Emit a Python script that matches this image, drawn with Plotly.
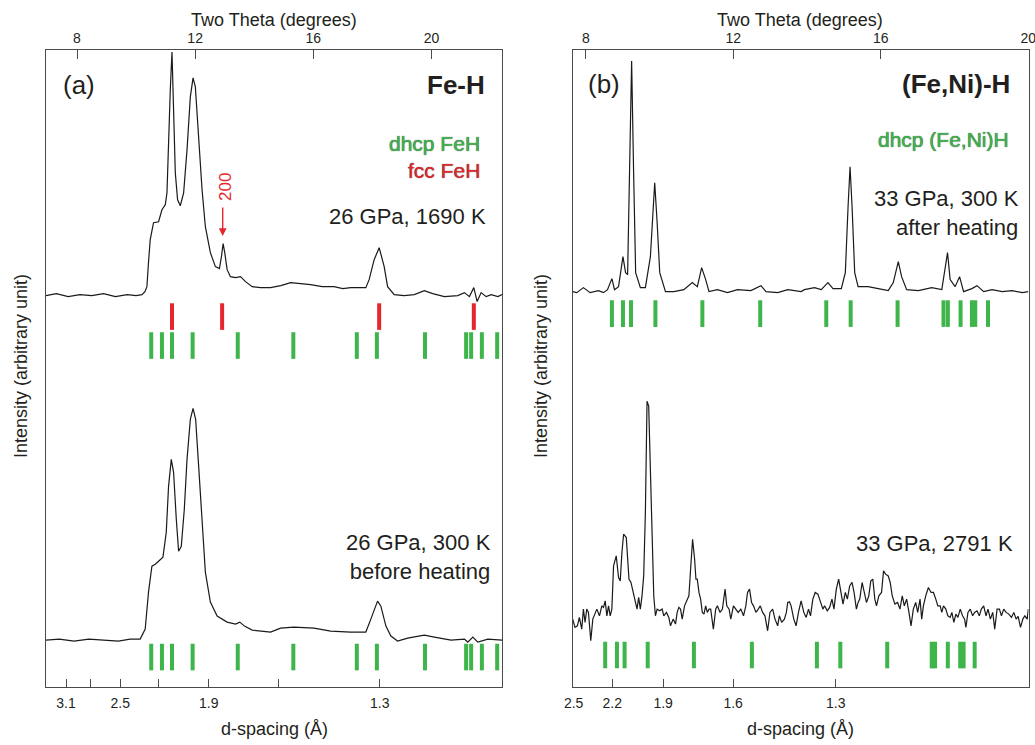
import numpy as np
import plotly.graph_objects as go

# ---------------- data (two theta in degrees, intensity in arbitrary units) ----------------
FE_HOT = [(6.95,392),(7.3,394),(7.7,391),(8.1,393),(8.5,392),(8.9,394),(9.3,391),(9.7,393),(10.0,392),
          (10.197,393),(10.30,396),(10.367,401),(10.42,425),(10.479,448),(10.591,465),(10.761,466),
          (10.876,478),(10.988,483),(11.046,495),(11.100,548),(11.158,598),(11.216,636),(11.270,581),
          (11.328,515),(11.406,488),(11.497,482),(11.610,495),(11.725,538),(11.837,591),(11.929,610),
          (12.007,601),(12.119,548),(12.234,498),(12.346,461),(12.516,435),(12.686,421),(12.822,419),
          (12.890,431),(12.947,444),(13.002,435),(13.083,418),(13.195,411),(13.365,410),(13.535,411),
          (13.705,406),(13.932,401),(14.214,400),(14.553,400),(14.9,402),(15.233,405),(15.6,404),(15.912,403),
          (16.3,401),(16.703,401),(17.0,399),(17.270,400),(17.779,400),(17.891,408),(18.061,428),(18.231,440),
          (18.401,421),(18.516,401),(18.740,393),(19.080,392),(19.419,393),(19.759,397),(20.044,394),
          (20.438,391),(20.893,392),(21.117,395),(21.287,391),(21.436,400),(21.548,386),(21.684,395),
          (21.854,391),(22.024,393),(22.251,391),(22.39,393)]

FE_COLD = [(6.95,47),(7.4,48),(7.9,46),(8.4,48),(8.9,47),(9.4,46),(9.8,48),(10.139,48),(10.309,58),
           (10.421,95),(10.536,121),(10.649,123),(10.761,126),(10.910,130),(11.022,155),(11.100,201),
           (11.192,228),(11.270,215),(11.362,168),(11.440,136),(11.531,141),(11.633,178),(11.725,228),
           (11.837,268),(11.929,279),(12.017,268),(12.119,221),(12.234,161),(12.346,115),(12.516,85),
           (12.744,71),(13.083,65),(13.365,63),(13.511,65),(13.671,61),(13.932,57),(14.553,55),(14.893,59),
           (15.345,60),(16.024,59),(16.591,56),(17.270,55),(17.779,55),(17.949,68),(18.176,86),(18.289,81),
           (18.459,61),(18.628,51),(18.855,46),(19.195,49),(19.759,52),(20.099,50),(20.665,47),(21.117,48),
           (21.232,45),(21.402,50),(21.572,45),(21.911,48),(22.39,47)]

FENI_COLD = [(7.646,396),(7.755,395),(7.935,400),(8.117,395),(8.343,397),(8.480,395),(8.589,398),
             (8.708,409),(8.779,398),(8.888,401),(9.008,431),(9.079,415),(9.134,413),(9.188,515),
             (9.243,627),(9.297,515),(9.352,415),(9.480,400),(9.616,400),(9.752,431),(9.826,481),
             (9.869,505),(9.935,465),(10.005,415),(10.161,396),(10.387,396),(10.659,398),(10.888,405),
             (11.025,401),(11.142,420),(11.251,408),(11.341,396),(11.570,398),(11.842,395),(12.114,398),
             (12.477,397),(12.749,402),(12.886,396),(13.204,395),(13.477,398),(13.839,396),(13.929,398),
             (14.201,400),(14.384,398),(14.567,405),(14.703,399),(14.929,399),(15.038,415),(15.112,481),
             (15.166,521),(15.221,481),(15.292,415),(15.384,401),(15.657,401),(15.929,399),(16.202,397),
             (16.338,405),(16.428,421),(16.474,426),(16.564,411),(16.700,398),(17.019,397),(17.381,400),
             (17.654,398),(17.744,418),(17.809,435),(17.880,408),(18.016,401),(18.136,411),(18.245,396),
             (18.471,399),(18.608,402),(18.790,396),(19.017,398),(19.289,396),(19.561,397),(19.834,395),
             (20.0,396)]

FENI_HOT = [(7.645,68),(7.708,59.7),(7.772,61.3),(7.826,69.7),(7.890,58),(7.935,78),(7.981,64.7),
            (8.026,78),(8.072,74.7),(8.135,46.3),(8.190,68),(8.253,74.7),(8.299,78),(8.371,71.3),
            (8.435,81.3),(8.480,79.7),(8.526,86.3),(8.571,71.3),(8.617,81.3),(8.662,71.3),(8.707,78),
            (8.753,121.3),(8.825,131.3),(8.889,109.7),(8.934,106.3),(8.980,134.7),(9.025,153),(9.098,149.7),
            (9.134,121.3),(9.171,108),(9.225,104.7),(9.298,91.3),(9.352,81.3),(9.389,78),(9.434,89.7),
            (9.479,78),(9.525,91.3),(9.570,111.3),(9.616,174.7),(9.661,286.3),(9.706,281.3),(9.752,208),
            (9.797,134.7),(9.843,91.3),(9.888,71.3),(9.934,78),(10.006,76.3),(10.070,78),(10.115,71.3),
            (10.188,74.7),(10.251,69.7),(10.297,61.3),(10.369,68),(10.433,63),(10.478,74.7),(10.524,79.7),
            (10.569,78),(10.615,68),(10.678,81.3),(10.733,86.3),(10.796,91.3),(10.842,118),(10.896,148),
            (10.951,128),(10.987,108),(11.023,108),(11.069,94.7),(11.114,88),(11.160,74.7),(11.205,73),
            (11.250,81.3),(11.296,74.7),(11.341,78),(11.387,78),(11.459,58),(11.523,78),(11.568,81.3),
            (11.641,74.7),(11.705,78),(11.777,98),(11.823,81.3),(11.886,78),(11.932,68),(12.004,81.3),
            (12.068,78),(12.132,74.7),(12.204,78),(12.277,71.3),(12.340,81.3),(12.386,94.7),(12.440,98),
            (12.495,84.7),(12.549,81.3),(12.613,74.7),(12.676,78),(12.731,81.3),(12.795,74.7),(12.858,71.3),
            (12.931,56.3),(12.994,74.7),(13.067,78),(13.131,68),(13.203,61.3),(13.249,71.3),(13.312,64.7),
            (13.385,68),(13.439,74.7),(13.476,84.7),(13.521,85.3),(13.567,81.3),(13.640,68),(13.703,61.3),
            (13.767,74.7),(13.839,86.3),(13.912,74.7),(13.976,69.7),(14.039,78),(14.094,71.3),(14.157,88),
            (14.221,94.7),(14.294,93),(14.366,84.7),(14.430,78),(14.475,81.3),(14.548,76.3),(14.612,79.7),
            (14.675,88),(14.730,78),(14.793,98),(14.857,108),(14.911,94.7),(14.975,83),(15.038,94.7),
            (15.093,88),(15.156,101.3),(15.220,104.7),(15.275,94.7),(15.338,78),(15.384,84.7),(15.429,88),
            (15.493,104.7),(15.547,94.7),(15.611,84.7),(15.674,91.3),(15.729,106.3),(15.783,108),(15.838,88),
            (15.883,81.3),(15.947,91.3),(16.019,94.7),(16.074,116.3),(16.128,113),(16.201,111.3),(16.255,104.7),
            (16.310,91.3),(16.383,83),(16.455,84.7),(16.519,78),(16.582,91.3),(16.637,81.3),(16.700,88),
            (16.764,74.7),(16.819,61.3),(16.882,78),(16.946,84.7),(17.000,74.7),(17.064,88),(17.109,68),
            (17.155,81.3),(17.218,91.3),(17.291,99.7),(17.363,94.7),(17.427,94.7),(17.491,88),(17.545,81.3),
            (17.609,81.3),(17.654,74.7),(17.700,81.3),(17.763,78),(17.818,71.3),(17.881,69.7),(17.927,74.7),
            (17.981,64.7),(18.036,73),(18.090,69.7),(18.154,78),(18.217,71.3),(18.272,68),(18.308,59.7),
            (18.363,74.7),(18.426,78),(18.490,71.3),(18.544,74.7),(18.608,76.3),(18.671,71.3),(18.726,78),
            (18.789,81.3),(18.853,71.3),(18.907,78),(18.971,68),(19.035,74.7),(19.089,58),(19.153,78),
            (19.216,78),(19.271,71.3),(19.334,78),(19.398,74.7),(19.471,73),(19.543,69.7),(19.607,74.7),
            (19.670,68),(19.725,70.7),(19.788,59.7),(19.852,68),(19.906,71.3),(19.970,68),(20.0,78)]

# reflection positions (two theta, degrees)
FCC_FEH = [11.216, 12.913, 18.231, 21.436]
DHCP_FEH = [10.513, 10.876, 11.216, 11.915, 13.443, 15.324, 17.474, 18.153, 19.783, 21.175, 21.345, 21.708, 22.227]
DHCP_FENI_300K = [8.708, 9.008, 9.226, 9.888, 11.161, 12.730, 14.521, 15.183, 16.455, 17.700, 17.818,
                  18.163, 18.471, 18.561, 18.907]
DHCP_FENI_2791K = [8.526, 8.845, 9.052, 9.679, 10.932, 12.504, 14.267, 14.902, 16.174, 17.381, 17.471,
                   17.817, 18.153, 18.245, 18.545]

# axes
TT_TICKS = [8, 12, 16, 20]
D_TICKS_A = [3.1, 2.8, 2.5, 2.2, 1.9, 1.6, 1.3]
D_LABELS_A = ["3.1", "", "2.5", "", "1.9", "", "1.3"]
D_TICKS_B = [2.5, 2.2, 1.9, 1.6, 1.3]
D_LABELS_B = ["2.5", "2.2", "1.9", "1.6", "1.3"]
WAVELENGTH_A = 0.4124  # Angstrom
WAVELENGTH_B = 0.3344

RANGE_A = [6.95, 22.39]
RANGE_B = [7.645, 20.005]
Y_RANGE = [0, 638]

# -----------------------------------------------------------------------------------------
FONT = "Liberation Sans, Arial, Helvetica, sans-serif"
TXT = "#231f20"
GREEN = "#3db54a"
RED = "#e5262d"
FW, FH = 1035, 745


def tt_of_d(d, lam):
    return list(2 * np.degrees(np.arcsin(lam / (2 * np.array(d)))))


def unzip(pairs):
    return [p[0] for p in pairs], [p[1] for p in pairs]


def px(x, y):
    return x / FW, 1 - y / FH


fig = go.Figure()

line_style = dict(color="#1a1a1a", width=1.2)
for data, xa, ya in [(FE_HOT, "x2", "y"), (FE_COLD, "x2", "y"),
                     (FENI_COLD, "x4", "y2"), (FENI_HOT, "x4", "y2")]:
    xs, ys = unzip(data)
    fig.add_trace(go.Scatter(x=xs, y=ys, mode="lines", line=line_style,
                             xaxis=xa, yaxis=ya, showlegend=False, hoverinfo="skip"))


def ticks(pos, level, color, xa, ya):
    fig.add_trace(go.Scatter(
        x=pos, y=[level] * len(pos), mode="markers", xaxis=xa, yaxis=ya,
        marker=dict(symbol="line-ns", size=19, line=dict(color=color, width=4)),
        showlegend=False, hoverinfo="skip"))


ticks(FCC_FEH, 371, RED, "x", "y")
ticks(DHCP_FEH, 342, GREEN, "x", "y")
ticks(DHCP_FEH, 30, GREEN, "x", "y")
ticks(DHCP_FENI_300K, 374, GREEN, "x3", "y2")
ticks(DHCP_FENI_2791K, 32, GREEN, "x3", "y2")

frame = dict(showline=True, linecolor="#4a4a4a", linewidth=1.2, mirror=True,
             showgrid=False, zeroline=False, automargin=False)
tickfont = dict(family=FONT, size=14, color=TXT)

dom_a = [px(46, 0)[0], px(502, 0)[0]]
dom_b = [px(572.7, 0)[0], px(1028.5, 0)[0]]
ydom = [px(0, 687)[1], px(0, 50)[1]]

xcommon = dict(ticks="inside", tickcolor="#4a4a4a", tickfont=tickfont, ticklabeloverflow="allow", **frame)

fig.update_layout(
    width=FW, height=FH, margin=dict(l=0, r=0, t=0, b=0, pad=0, autoexpand=False),
    paper_bgcolor="white", plot_bgcolor="white",
    font=dict(family=FONT, color=TXT),
    xaxis=dict(domain=dom_a, range=RANGE_A, anchor="y", tickvals=tt_of_d(D_TICKS_A, WAVELENGTH_A),
               ticktext=D_LABELS_A, ticklen=8, ticklabelstandoff=3, **xcommon),
    xaxis2=dict(range=RANGE_A, overlaying="x", anchor="y", side="top", tickvals=TT_TICKS,
                ticklen=9, **xcommon),
    yaxis=dict(domain=ydom, range=Y_RANGE, anchor="x", showticklabels=False, ticks="", **frame),
    xaxis3=dict(domain=dom_b, range=RANGE_B, anchor="y2", tickvals=tt_of_d(D_TICKS_B, WAVELENGTH_B),
                ticktext=D_LABELS_B, ticklen=8, ticklabelstandoff=3, **xcommon),
    xaxis4=dict(range=RANGE_B, overlaying="x3", anchor="y2", side="top", tickvals=TT_TICKS,
                ticklen=9, **xcommon),
    yaxis2=dict(domain=ydom, range=Y_RANGE, anchor="x3", showticklabels=False, ticks="", **frame),
)

ann = []


def text(x, y, s, size, color=TXT, xanchor="center", bold=False, angle=0, shadow=None, align="center"):
    xx, yy = px(x, y)
    f = dict(family=FONT, size=size, color=color)
    if bold:
        f["weight"] = "bold"
    if shadow:
        f["shadow"] = shadow
    ann.append(dict(x=xx, y=yy, xref="paper", yref="paper", text=s, showarrow=False,
                    xanchor=xanchor, yanchor="middle", font=f, textangle=angle, align=align))


SH = "0px 0px 1px #1f1f1f"
# axis titles
for cx in (274, 800):
    text(cx, 20, "Two Theta (degrees)", 18)
    text(cx, 729, "d-spacing (Å)", 18)
for cx in (21, 541):
    text(cx, 366, "Intensity (arbitrary unit)", 18, angle=-90)

# panel (a)
text(61, 85, "(a)", 26, xanchor="left")
text(487, 85, "Fe-H", 26, xanchor="right", bold=True)
text(482, 144, "dhcp FeH", 21, color=GREEN, xanchor="right", shadow=SH)
text(482, 171, "fcc FeH", 21, color=RED, xanchor="right", shadow=SH)
text(488, 217, "26 GPa, 1690 K", 22, xanchor="right")
text(226, 187, "200", 17, color=RED, angle=-90)
text(493, 557, "26 GPa, 300 K<br>before heating", 22, xanchor="right", align="right")

# panel (b)
text(586, 84, "(b)", 26, xanchor="left")
text(1012, 84, "(Fe,Ni)-H", 26, xanchor="right", bold=True)
text(1011, 140, "dhcp (Fe,Ni)H", 21, color=GREEN, xanchor="right", shadow=SH)
text(1021, 213, "33 GPa, 300 K<br>after heating", 22, xanchor="right", align="right")
text(1015, 543, "33 GPa, 2791 K", 22, xanchor="right")

# arrow marking the fcc 200 reflection
hx, hy = px(222.7, 236)
ann.append(dict(x=hx, y=hy, xref="paper", yref="paper", text="", showarrow=True,
                ax=0, ay=-30, arrowhead=2, arrowsize=1.1, arrowwidth=1.4, arrowcolor=RED))

fig.update_layout(annotations=ann)
fig.write_html("out.html", config={"displayModeBar": False},
               post_script="document.body.style.margin='0';document.body.style.overflow='hidden';")
